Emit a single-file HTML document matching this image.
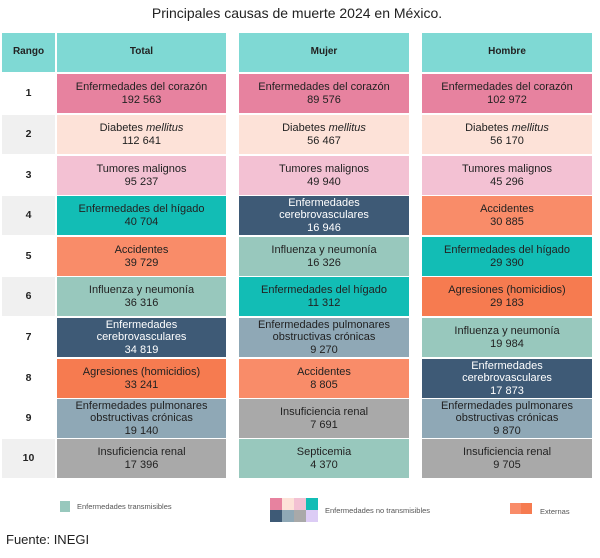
<!DOCTYPE html>
<html><head><meta charset="utf-8"><style>
body{margin:0;width:600px;height:558px;background:#fff;position:relative;font-family:"Liberation Sans",Arial,sans-serif;overflow:hidden}
.c{position:absolute;display:flex;flex-direction:column;justify-content:center;align-items:center;text-align:center;font-size:11px;line-height:12.5px;color:#222}
.h{font-weight:bold;font-size:10px;background:#7fd9d4;color:#222}
.r{font-weight:bold;font-size:10.5px}
.w{color:#fff}
.A{background:#e7829f}.B{background:#fde2d8}.C{background:#f3c1d3}.D{background:#12bdb5}.E{background:#3e5a76}.F{background:#f98c69}.G{background:#98c8bd}.H{background:#8fa8b6}.I{background:#f67b50}.J{background:#a9a9a9}
.t{position:absolute;font-size:7.5px;color:#555}
</style></head><body>
<div style="position:absolute;left:0;width:594px;top:5px;text-align:center;font-size:14px;color:#222">Principales causas de muerte 2024 en México.</div>

<div class="c h" style="left:2px;top:33px;width:53px;height:39px">Rango</div>
<div class="c h" style="left:57px;top:33px;width:169px;height:39px">Total</div>
<div class="c h" style="left:239px;top:33px;width:170px;height:39px">Mujer</div>
<div class="c h" style="left:422px;top:33px;width:170px;height:39px">Hombre</div>

<div class="c r" style="left:2px;top:74px;width:53px;height:39px">1</div>
<div class="c A" style="left:57px;top:74px;width:169px;height:39px">Enfermedades del corazón<br>192 563</div>
<div class="c A" style="left:239px;top:74px;width:170px;height:39px">Enfermedades del corazón<br>89 576</div>
<div class="c A" style="left:422px;top:74px;width:170px;height:39px">Enfermedades del corazón<br>102 972</div>

<div class="c r" style="left:2px;top:115px;width:53px;height:39px;background:#f0f0f0">2</div>
<div class="c B" style="left:57px;top:115px;width:169px;height:39px"><span>Diabetes <i>mellitus</i></span>112 641</div>
<div class="c B" style="left:239px;top:115px;width:170px;height:39px"><span>Diabetes <i>mellitus</i></span>56 467</div>
<div class="c B" style="left:422px;top:115px;width:170px;height:39px"><span>Diabetes <i>mellitus</i></span>56 170</div>

<div class="c r" style="left:2px;top:156px;width:53px;height:39px">3</div>
<div class="c C" style="left:57px;top:156px;width:169px;height:39px">Tumores malignos<br>95 237</div>
<div class="c C" style="left:239px;top:156px;width:170px;height:39px">Tumores malignos<br>49 940</div>
<div class="c C" style="left:422px;top:156px;width:170px;height:39px">Tumores malignos<br>45 296</div>

<div class="c r" style="left:2px;top:196px;width:53px;height:39px;background:#f0f0f0">4</div>
<div class="c D" style="left:57px;top:196px;width:169px;height:39px">Enfermedades del hígado<br>40 704</div>
<div class="c E w" style="left:239px;top:196px;width:170px;height:39px">Enfermedades<br>cerebrovasculares<br>16 946</div>
<div class="c F" style="left:422px;top:196px;width:170px;height:39px">Accidentes<br>30 885</div>

<div class="c r" style="left:2px;top:237px;width:53px;height:39px">5</div>
<div class="c F" style="left:57px;top:237px;width:169px;height:39px">Accidentes<br>39 729</div>
<div class="c G" style="left:239px;top:237px;width:170px;height:39px">Influenza y neumonía<br>16 326</div>
<div class="c D" style="left:422px;top:237px;width:170px;height:39px">Enfermedades del hígado<br>29 390</div>

<div class="c r" style="left:2px;top:277px;width:53px;height:39px;background:#f0f0f0">6</div>
<div class="c G" style="left:57px;top:277px;width:169px;height:39px">Influenza y neumonía<br>36 316</div>
<div class="c D" style="left:239px;top:277px;width:170px;height:39px">Enfermedades del hígado<br>11 312</div>
<div class="c I" style="left:422px;top:277px;width:170px;height:39px">Agresiones (homicidios)<br>29 183</div>

<div class="c r" style="left:2px;top:318px;width:53px;height:39px">7</div>
<div class="c E w" style="left:57px;top:318px;width:169px;height:39px">Enfermedades<br>cerebrovasculares<br>34 819</div>
<div class="c H" style="left:239px;top:318px;width:170px;height:39px">Enfermedades pulmonares<br>obstructivas crónicas<br>9 270</div>
<div class="c G" style="left:422px;top:318px;width:170px;height:39px">Influenza y neumonía<br>19 984</div>

<div class="c r" style="left:2px;top:359px;width:53px;height:39px">8</div>
<div class="c I" style="left:57px;top:359px;width:169px;height:39px">Agresiones (homicidios)<br>33 241</div>
<div class="c F" style="left:239px;top:359px;width:170px;height:39px">Accidentes<br>8 805</div>
<div class="c E w" style="left:422px;top:359px;width:170px;height:39px">Enfermedades<br>cerebrovasculares<br>17 873</div>

<div class="c r" style="left:2px;top:399px;width:53px;height:39px">9</div>
<div class="c H" style="left:57px;top:399px;width:169px;height:39px">Enfermedades pulmonares<br>obstructivas crónicas<br>19 140</div>
<div class="c J" style="left:239px;top:399px;width:170px;height:39px">Insuficiencia renal<br>7 691</div>
<div class="c H" style="left:422px;top:399px;width:170px;height:39px">Enfermedades pulmonares<br>obstructivas crónicas<br>9 870</div>

<div class="c r" style="left:2px;top:439px;width:53px;height:39px;background:#f0f0f0">10</div>
<div class="c J" style="left:57px;top:439px;width:169px;height:39px">Insuficiencia renal<br>17 396</div>
<div class="c G" style="left:239px;top:439px;width:170px;height:39px">Septicemia<br>4 370</div>
<div class="c J" style="left:422px;top:439px;width:170px;height:39px">Insuficiencia renal<br>9 705</div>

<div style="position:absolute;left:60px;top:501px;width:10px;height:11px;background:#98c8bd"></div>
<div class="t" style="left:77px;top:502px">Enfermedades transmisibles</div>
<div style="position:absolute;left:270px;top:498px;width:48px;height:24px;display:grid;grid-template-columns:repeat(4,12px);grid-template-rows:12px 12px">
<div class="A"></div><div class="B"></div><div class="C"></div><div class="D"></div>
<div class="E"></div><div class="H"></div><div class="J"></div><div style="background:#dcccf5"></div></div>
<div class="t" style="left:325px;top:506px">Enfermedades no transmisibles</div>
<div style="position:absolute;left:510px;top:503px;width:11px;height:11px;background:#f98c69"></div>
<div style="position:absolute;left:521px;top:503px;width:11px;height:11px;background:#f67b50"></div>
<div class="t" style="left:540px;top:507px">Externas</div>

<div style="position:absolute;left:6px;top:532px;font-size:13px;color:#222">Fuente: INEGI</div>
</body></html>
